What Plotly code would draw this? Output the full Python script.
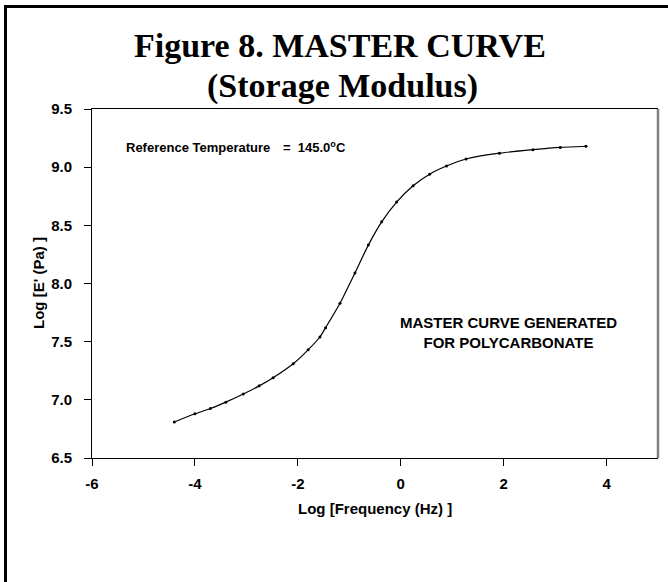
import plotly.graph_objects as go

# Data
log_freq = [-4.40, -4.00, -3.70, -3.40, -3.06, -2.75, -2.48, -2.09, -1.80, -1.57,
            -1.46, -1.18, -0.89, -0.63, -0.37, -0.08, 0.24, 0.56, 0.89, 1.27,
            1.92, 2.57, 3.10, 3.60]
log_E = [6.81, 6.88, 6.925, 6.98, 7.05, 7.12, 7.19, 7.31, 7.43, 7.54,
         7.62, 7.83, 8.09, 8.33, 8.53, 8.70, 8.84, 8.94, 9.01, 9.07,
         9.12, 9.15, 9.17, 9.18]
x_ticks = [-6, -4, -2, 0, 2, 4]
x_tick_labels = ["-6", "-4", "-2", "0", "2", "4"]
y_ticks = [6.5, 7.0, 7.5, 8.0, 8.5, 9.0, 9.5]
y_tick_labels = ["6.5", "7.0", "7.5", "8.0", "8.5", "9.0", "9.5"]

W, H = 668, 582
L, R, T, B = 92, 658, 109, 458


def px(p):
    return (p - L) / (R - L)


def py(p):
    return (B - p) / (B - T)


fig = go.Figure()
fig.add_trace(go.Scatter(
    x=log_freq, y=log_E, mode="lines+markers",
    line=dict(color="black", width=1.2, shape="spline", smoothing=0.6),
    marker=dict(color="black", size=3, symbol="circle"),
    showlegend=False, hoverinfo="x+y",
))

tick_font = dict(family="Arial, Liberation Sans", size=15, color="black", weight="bold")
ann_font = dict(family="Arial, Liberation Sans", size=15, color="black", weight="bold")
small_font = dict(family="Arial, Liberation Sans", size=13, color="black", weight="bold")
title_font = dict(family="Times New Roman, Liberation Serif", size=34, color="black", weight="bold")

annotations = [
    dict(text="Figure 8. MASTER CURVE", x=px(340), y=py(46), xref="paper", yref="paper",
         xanchor="center", yanchor="middle", showarrow=False, font=title_font),
    dict(text="(Storage Modulus)", x=px(342), y=py(86), xref="paper", yref="paper",
         xanchor="center", yanchor="middle", showarrow=False, font=title_font),
    dict(text="Reference Temperature", x=px(124), y=py(147), xref="paper", yref="paper",
         xanchor="left", yanchor="middle", showarrow=False, font=small_font),
    dict(text="=\u00a0\u00a0145.0<sup>o</sup>C", x=px(281), y=py(147), xref="paper", yref="paper",
         xanchor="left", yanchor="middle", showarrow=False, font=small_font),
    dict(text="MASTER CURVE GENERATED<br>FOR POLYCARBONATE", x=px(508), y=py(332), xref="paper",
         yref="paper", xanchor="center", yanchor="middle", showarrow=False, font=ann_font,
         align="center"),
    dict(text="Log [Frequency (Hz) ]", x=px(375), y=py(508), xref="paper", yref="paper",
         xanchor="center", yanchor="middle", showarrow=False, font=ann_font),
    dict(text="Log [E' (Pa) ]", x=px(38), y=py(283), xref="paper", yref="paper",
         xanchor="center", yanchor="middle", showarrow=False, font=ann_font, textangle=-90),
]

shapes = [
    # right edge of plot box (grey)
    dict(type="line", xref="paper", yref="paper", x0=1, x1=1, y0=0, y1=1,
         line=dict(color="#7f7f7f", width=2.5)),
    # outer frame
    dict(type="rect", xref="paper", yref="paper", x0=px(5.5), x1=px(720), y0=py(700), y1=py(6.5),
         line=dict(color="black", width=3), fillcolor="rgba(0,0,0,0)"),
]

fig.update_layout(
    width=W, height=H,
    margin=dict(l=L, r=W - R, t=T, b=H - B),
    paper_bgcolor="white", plot_bgcolor="white",
    annotations=annotations, shapes=shapes,
    xaxis=dict(range=[-6, 5], tickvals=x_ticks, ticktext=x_tick_labels, showgrid=False,
               zeroline=False, showline=True, linecolor="black", linewidth=1, mirror=True,
               ticks="outside", ticklen=7, tickcolor="black", tickwidth=1,
               tickfont=tick_font, ticklabelstandoff=5),
    yaxis=dict(range=[6.5, 9.5], tickvals=y_ticks, ticktext=y_tick_labels, showgrid=False,
               zeroline=False, showline=True, linecolor="black", linewidth=1,
               ticks="outside", ticklen=7, tickcolor="black", tickwidth=1,
               tickfont=tick_font, ticklabelstandoff=9),
)

fig.write_html("out.html")
